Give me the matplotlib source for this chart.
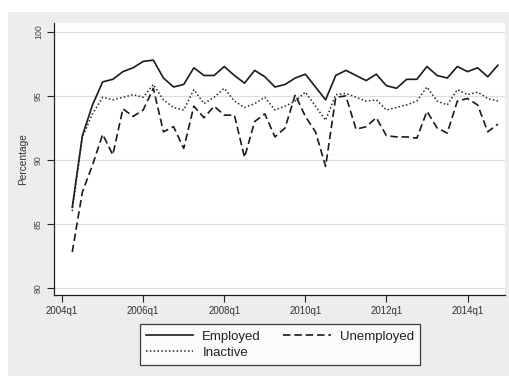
import matplotlib
matplotlib.use("Agg")
import matplotlib.pyplot as plt
from matplotlib.patches import Rectangle

plt.rcParams['font.family'] = ['Liberation Sans', 'DejaVu Sans']

# Quarterly series, 2004q2 .. 2014q4 (quarter index 0 = 2004q1)
quarters = list(range(1, 44))

employed = [86.3, 91.9, 94.3, 96.1, 96.3, 96.9, 97.2, 97.7, 97.8, 96.4,
            95.7, 95.9, 97.2, 96.6, 96.6, 97.3, 96.6, 96.0, 97.0, 96.5,
            95.7, 95.9, 96.4, 96.7, 95.7, 94.7, 96.6, 97.0, 96.6, 96.2,
            96.7, 95.8, 95.6, 96.3, 96.3, 97.3, 96.6, 96.4, 97.3, 96.9,
            97.2, 96.5, 97.4]

unemployed = [82.8, 87.5, 89.6, 92.0, 90.4, 94.0, 93.4, 93.9, 95.6, 92.2,
              92.6, 90.9, 94.2, 93.3, 94.2, 93.5, 93.5, 90.2, 93.0, 93.6,
              91.8, 92.5, 95.1, 93.4, 92.2, 89.5, 94.9, 95.0, 92.4, 92.6,
              93.3, 91.9, 91.8, 91.8, 91.7, 93.8, 92.5, 92.1, 94.6, 94.8,
              94.3, 92.2, 92.8]

inactive = [86.0, 91.8, 93.6, 94.9, 94.7, 94.9, 95.1, 94.9, 95.9, 94.7,
            94.1, 93.9, 95.5, 94.4, 94.9, 95.6, 94.6, 94.1, 94.4, 94.9,
            93.9, 94.2, 94.6, 95.3, 94.2, 93.1, 95.1, 95.2, 94.9, 94.6,
            94.7, 93.9, 94.1, 94.3, 94.6, 95.7, 94.6, 94.3, 95.5, 95.1,
            95.3, 94.8, 94.6]

xtick_pos = [0, 8, 16, 24, 32, 40]
xtick_labels = ["2004q1", "2006q1", "2008q1", "2010q1", "2012q1", "2014q1"]
ytick_vals = [80, 85, 90, 95, 100]

fig = plt.figure(figsize=(5.09, 3.76), dpi=100, facecolor="white")

# light gray graph region behind the plot
fig.patches.append(Rectangle((8 / 509, 0), 1 - 8 / 509, 1 - 12 / 376,
                             transform=fig.transFigure, facecolor="#ededed",
                             edgecolor="none", zorder=-10))

ax = fig.add_axes([54 / 509, 81 / 376, 451 / 509, 272 / 376])
ax.set_facecolor("white")

l_emp, = ax.plot(quarters, employed, color="#1a1a1a", lw=1.2,
                 linestyle="-", label="Employed")
l_une, = ax.plot(quarters, unemployed, color="#1a1a1a", lw=1.2,
                 linestyle=(0, (4.5, 2.3)), label="Unemployed")
l_ina, = ax.plot(quarters, inactive, color="#262626", lw=1.1,
                 linestyle=(0, (1, 1.5)), label="Inactive")

ax.set_xlim(-0.8, 43.7)
ax.set_ylim(79.45, 100.7)

for v in ytick_vals:
    ax.axhline(v, color="#dedede", lw=0.9, zorder=0)

ax.set_yticks(ytick_vals)
ax.set_yticklabels([str(v) for v in ytick_vals], rotation=90, va="center",
                   fontsize=6.3, color="#444444")
ax.set_xticks(xtick_pos)
ax.set_xticklabels(xtick_labels, fontsize=7, color="#333333")
ax.tick_params(axis="y", length=5, width=0.8, pad=3, color="#222222")
ax.tick_params(axis="x", length=5, width=0.8, pad=3, color="#222222")

ax.set_ylabel("Percentage", fontsize=7.3, color="#333333", labelpad=4)

for side in ("top", "right"):
    ax.spines[side].set_visible(False)
for side in ("left", "bottom"):
    ax.spines[side].set_color("#222222")
    ax.spines[side].set_linewidth(0.9)

leg = fig.legend([l_emp, l_ina, l_une], ["Employed", "Inactive", "Unemployed"],
                 ncol=2, loc="center", bbox_to_anchor=(0.550, 0.0838),
                 fontsize=9.5, frameon=True, fancybox=False,
                 handlelength=3.6, handletextpad=0.7, columnspacing=1.7,
                 labelspacing=0.3, borderpad=0.45)
leg.get_frame().set_edgecolor("#111111")
leg.get_frame().set_linewidth(0.9)
leg.get_frame().set_facecolor("white")
for t in leg.get_texts():
    t.set_color("#222222")

fig.savefig("out.png", dpi=100, facecolor=fig.get_facecolor())
